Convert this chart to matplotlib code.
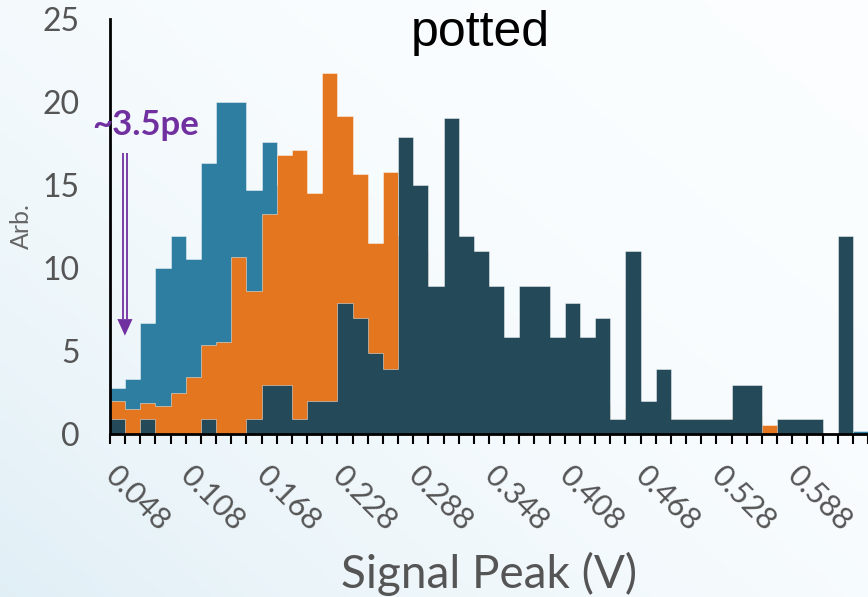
import numpy as np
import matplotlib
matplotlib.use("Agg")
import matplotlib.pyplot as plt
from matplotlib.patches import Polygon
from matplotlib.transforms import ScaledTranslation

# bin edges: 0.012 V wide starting at 0.048 V
bin_start = 0.048
bin_width = 0.012
n_bins = 50
edges = bin_start + bin_width * np.arange(n_bins + 1)

# values (hidden parts under other series are estimates)
blue = [2.76, 3.27, 6.64, 10.0, 11.9, 10.5, 16.3, 20.0, 20.0, 14.7,
        17.6, 15.0, 14.0, 12.0, 10.0, 9.0, 7.0, 6.0, 5.0, 4.0,
        3.0, 3.0, 2.0, 2.0, 1.0, 1.0, 1.0, 0.5, 0.5, 0.5,
        0.5, 0.5, 0.5, 0.3, 0.3, 0.3, 0.0, 0.0, 0.0, 0.0,
        0.0, 0.0, 0.0, 0.0, 0.0, 0.0, 0.0, 0.0, 0.0, 0.17]
orange = [1.96, 1.48, 1.82, 1.66, 2.46, 3.43, 5.34, 5.5, 10.66, 8.6,
          13.24, 16.8, 17.1, 14.5, 21.76, 19.17, 15.65, 11.47, 15.79, 12.0,
          11.0, 8.0, 7.0, 5.5, 5.0, 4.0, 3.5, 3.0, 2.5, 2.5,
          2.0, 2.0, 1.8, 0.5, 1.5, 1.0, 1.5, 0.85, 0.85, 0.85,
          0.85, 1.0, 1.0, 0.5, 0.5, 0.3, 0.3, 0.0, 0.0, 0.0]
dark = [0.85, 0.0, 0.85, 0.0, 0.0, 0.0, 0.85, 0.0, 0.0, 0.85,
        2.92, 2.92, 0.85, 1.96, 1.96, 7.9, 6.95, 4.84, 3.89, 17.9,
        15.0, 8.9, 19.0, 11.9, 11.0, 8.9, 5.85, 8.9, 8.9, 5.85,
        7.9, 5.85, 6.95, 0.85, 11.0, 1.96, 3.9, 0.85, 0.85, 0.85,
        0.85, 2.92, 2.92, 0.0, 0.85, 0.85, 0.85, 0.0, 11.9, 0.0]

tick_labels = ["0.048", "0.108", "0.168", "0.228", "0.288",
               "0.348", "0.408", "0.468", "0.528", "0.588"]
y_ticks = [0, 5, 10, 15, 20, 25]

c_blue = "#2e7ea1"
c_orange = "#e3761f"
c_dark = "#244a5a"
purple = "#7030a0"
gray = "#555555"

W, H = 868, 597
fig = plt.figure(figsize=(W / 100, H / 100), dpi=100)

# soft bluish background gradient
bg = fig.add_axes([0, 0, 1, 1], zorder=-10)
gx, gy = np.meshgrid(np.linspace(0, 1, 200), np.linspace(0, 1, 200))
w = np.clip(((1 - gx) * 0.55 + gy * 0.45), 0, 1) ** 2.2 * 0.9
top = np.array([0.985, 0.995, 1.0])
low = np.array([0.87, 0.93, 0.96])
img = top[None, None, :] * (1 - w[..., None]) + low[None, None, :] * w[..., None]
bg.imshow(img, aspect="auto", extent=[0, 1, 0, 1], origin="upper")
bg.axis("off")

ax = fig.add_axes([110 / W, 1 - 433.5 / H, 1 - 110 / W, (433.5 - 19) / H])
ax.set_facecolor("none")

for vals, col in [(blue, c_blue), (orange, c_orange), (dark, c_dark)]:
    ax.stairs(vals, edges, fill=True, facecolor=col,
              edgecolor=(1, 1, 1, 0.45), linewidth=0.7)

x_right = bin_start + bin_width * (W - 110) / 15.2
ax.set_xlim(bin_start, x_right)
ax.set_ylim(0, 25)

labels = []
for i in range(len(edges)):
    labels.append(tick_labels[i // 5] if i % 5 == 0 and i // 5 < len(tick_labels) else "")
ax.set_xticks(edges, labels=labels)
ax.set_yticks(y_ticks)

ax.tick_params(axis="x", direction="out", length=7.5, width=1.5, color="black",
               pad=12, labelsize=22, labelcolor=gray)
ax.tick_params(axis="y", length=0, pad=22, labelsize=23, labelcolor=gray)
shift = ScaledTranslation(9 / 100, 0, fig.dpi_scale_trans)
for lbl in ax.get_xticklabels():
    lbl.set_rotation(-45)
    lbl.set_rotation_mode("anchor")
    lbl.set_ha("left")
    lbl.set_va("top")
    lbl.set_family("Lato")
    lbl.set_transform(lbl.get_transform() + shift)
for lbl in ax.get_yticklabels():
    lbl.set_family("Lato")

for s in ["top", "right"]:
    ax.spines[s].set_visible(False)
ax.spines["left"].set_linewidth(2)
ax.spines["bottom"].set_linewidth(2)

ax.set_ylabel("Arb.", fontsize=18, color="#666666", family="Lato",
              ha="center", va="center")
ax.yaxis.set_label_coords((21 - 110) / (W - 110), 0.5)

fig.text(489 / W, 1 - 588 / H, "Signal Peak (V)", ha="center", va="baseline",
         fontsize=33, color=gray, family="Lato")
fig.text(480 / W, 1 - 46.5 / H, "potted", ha="center", va="baseline",
         fontsize=36, color="black", family="Liberation Sans")

# ~3.5pe marker
ax.text(0.0343, 18.0, "~3.5pe", fontsize=25, color=purple, fontweight="bold",
        family="Lato", ha="left", va="baseline", clip_on=False)
ax_x = 0.0598
dx = 0.0019
for off in (-dx, dx):
    ax.plot([ax_x + off, ax_x + off], [16.9, 6.9], color=purple, lw=1.3,
            solid_capstyle="butt")
hw = 0.006
ax.add_patch(Polygon([[ax_x - hw, 6.9], [ax_x + hw, 6.9], [ax_x, 5.9]],
                     closed=True, color=purple, lw=0))

fig.savefig("out.png", dpi=100)
